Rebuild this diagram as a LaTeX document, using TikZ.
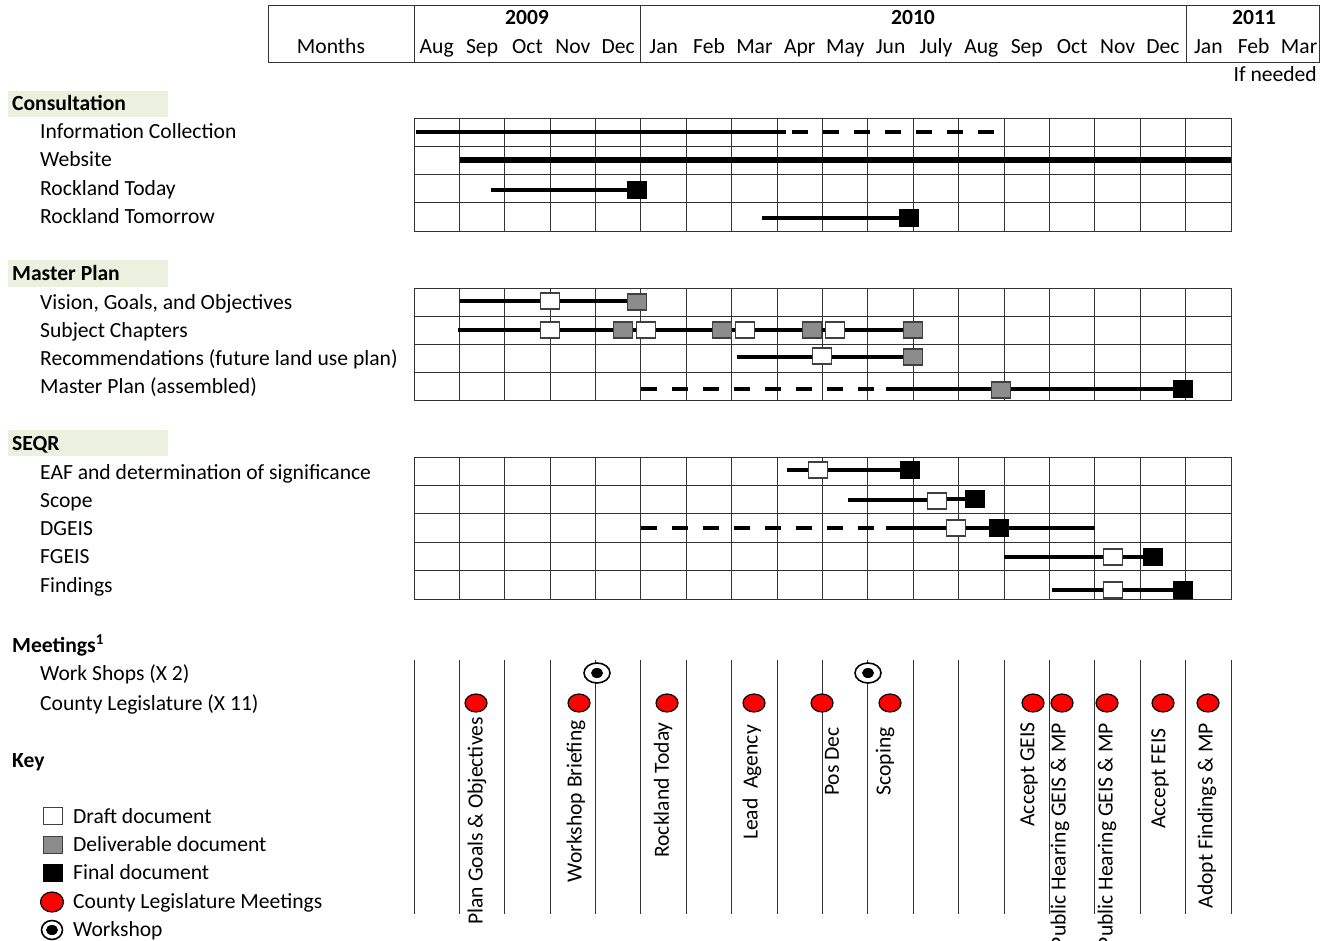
\documentclass[tikz,border=0pt]{standalone}
\usepackage{fontspec}
\setmainfont{Carlito}
\usetikzlibrary{positioning, shapes.geometric, calc}
\definecolor{bandgreen}{HTML}{EBF1DE}
\definecolor{delgray}{HTML}{8C8C8C}
\newcommand\chartfont{\fontsize{21.6}{25}\selectfont}
\tikzset{
	grid/.style={line width=1.5pt, black!80},
	bar/.style={line width=4.5pt, black},
	bar wide/.style={line width=6pt, black},
	bar dashed/.style={line width=4.5pt, black, dash pattern=on 16pt off 15pt},
	doc draft/.style={rectangle, draw=black!75, line width=1.4pt, fill=white,
		minimum width=19pt, minimum height=16pt, inner sep=0pt},
	doc deliver/.style={doc draft, fill=delgray},
	doc final/.style={rectangle, fill=black, minimum width=20pt, minimum height=18pt, inner sep=0pt},
	meeting/.style={ellipse, draw=black, line width=1.2pt, fill=red,
		minimum width=22pt, minimum height=18pt, inner sep=0pt},
	workshop/.style={ellipse, draw=black, line width=1.6pt, fill=white,
		minimum width=26pt, minimum height=20pt, inner sep=0pt,
		path picture={\fill[black] (path picture bounding box.center) ellipse (6pt and 5pt);}},
	band/.style={fill=bandgreen},
	label/.style={anchor=base west, inner sep=0pt},
	heading/.style={label, font=\chartfont\bfseries},
	month/.style={anchor=base, inner sep=0pt},
	vlabel/.style={rotate=90, anchor=east, inner sep=0pt}
}

\begin{document}
\begin{tikzpicture}[x=1pt, y=-1pt, font=\chartfont]
	\useasboundingbox (0,0) rectangle (1322,941);
	\def\mw{45.39}
	% header table
	\draw[grid] (268,5.5) -- (1320,5.5) (268,62.5) -- (1320,62.5);
	\foreach \x in {268.5,414.5,640.5,1186.5,1319.5}
		\draw[grid] (\x,5) -- (\x,63);
	\node[month] (months) at (331,54) {Months};
	\node[month, font=\chartfont\bfseries] (y2009) at (527,25) {2009};
	\node[month, font=\chartfont\bfseries] (y2010) at (913,25) {2010};
	\node[month, font=\chartfont\bfseries] (y2011) at (1254,25) {2011};
	\foreach \m [count=\i from 0] in {Aug,Sep,Oct,Nov,Dec,Jan,Feb,Mar,Apr,May,Jun,July,Aug,Sep,Oct,Nov,Dec,Jan,Feb,Mar}
		\node[month] (m\i) at ({414+\mw*(\i+0.5)},54) {\m};
	\node[anchor=base east, inner sep=0pt] (ifneeded) at (1317,82) {If needed};
	% grids
	\foreach \top/\bot/\n in {118/231/4, 288/400/4, 457/599/5}
	{
		\foreach \i in {0,...,18}
			\draw[grid] ({floor(414+\mw*\i)+0.5},\top) -- ({floor(414+\mw*\i)+0.5},\bot+1);
		\foreach \j in {0,...,\n}
			\draw[grid] (414,{floor(\top+(\bot-\top)*\j/\n)+0.5}) -- ({414+\mw*18+1},{floor(\top+(\bot-\top)*\j/\n)+0.5});
	}
	\foreach \i in {0,...,18}
		\draw[grid] ({floor(414+\mw*\i)+0.5},660) -- ({floor(414+\mw*\i)+0.5},914);
	% section headings
	\fill[band] (8,91) rectangle (168,117);
	\fill[band] (8,260) rectangle (168,287);
	\fill[band] (8,430) rectangle (168,456);
	\node[heading] (hcons) at (12,111) {Consultation};
	\node[label] (linfo) at (40,139) {Information Collection};
	\node[label] (lweb) at (40,167) {Website};
	\node[label] (ltoday) at (40,196) {Rockland Today};
	\node[label] (ltomorrow) at (40,224) {Rockland Tomorrow};
	\node[heading] (hplan) at (12,280) {Master Plan};
	\node[label] (lvision) at (40,309) {Vision, Goals, and Objectives};
	\node[label] (lchapters) at (40,337) {Subject Chapters};
	\node[label] (lrecom) at (40,365) {Recommendations (future land use plan)};
	\node[label] (lassem) at (40,393) {Master Plan (assembled)};
	\node[heading] (hseqr) at (12,450) {SEQR};
	\node[label] (leaf) at (40,479) {EAF and determination of significance};
	\node[label] (lscope) at (40,507) {Scope};
	\node[label] (ldgeis) at (40,535) {DGEIS};
	\node[label] (lfgeis) at (40,563) {FGEIS};
	\node[label] (lfind) at (40,592) {Findings};
	\node[heading] (hmeet) at (12,652) {Meetings\textsuperscript{1}};
	\node[label] (lshops) at (40,680) {Work Shops (X 2)};
	\node[label] (lcounty) at (40,710) {County Legislature (X 11)};
	\node[heading] (hkey) at (12,767) {Key};
	% consultation
	\coordinate (infoA) at (416,132);
	\coordinate (infoB) at (786,132);
	\coordinate (infoC) at (792,132);
	\coordinate (infoD) at (996,132);
	\draw[bar] (infoA) -- (infoB);
	\draw[bar dashed] (infoC) -- (infoD);
	\coordinate (webA) at (460,160);
	\coordinate (webB) at ({414+\mw*18},160);
	\draw[bar wide] (webA) -- (webB);
	\coordinate (todayA) at (491,190);
	\node[doc final] (todayF) at (637,190) {};
	\draw[bar] (todayA) -- (todayF);
	\coordinate (tomA) at (762,218);
	\node[doc final] (tomF) at (909,218) {};
	\draw[bar] (tomA) -- (tomF);
	% master plan
	\coordinate (visA) at (460,301);
	\node[doc draft] (visD) at (550,301) {};
	\node[doc deliver] (visV) at (637,302) {};
	\draw[bar] (visA) -- (visD) -- (visD -| visV.west);
	\coordinate (chA) at (458,330);
	\node[doc draft] (chD1) at (550,330) {};
	\node[doc deliver] (chV1) at (623,330) {};
	\node[doc draft] (chD2) at (646,330) {};
	\node[doc deliver] (chV2) at (722,330) {};
	\node[doc draft] (chD3) at (745,330) {};
	\node[doc deliver] (chV3) at (812,330) {};
	\node[doc draft] (chD4) at (835,330) {};
	\node[doc deliver] (chV4) at (913,330) {};
	\draw[bar] (chA) -- (chD1) -- (chV1) -- (chD2) -- (chV2) -- (chD3) -- (chV3) -- (chD4) -- (chV4);
	\coordinate (recA) at (737,357);
	\node[doc draft] (recD) at (822,356) {};
	\node[doc deliver] (recV) at (913,357) {};
	\draw[bar] (recA) -- (recA -| recD.west) (recD.east |- recV) -- (recV);
	\coordinate (mpA) at (641,389);
	\coordinate (mpB) at (876,389);
	\coordinate (mpC) at (886,389);
	\node[doc deliver] (mpV) at (1001,390) {};
	\node[doc final] (mpF) at (1183,389) {};
	\draw[bar dashed] (mpA) -- (mpB);
	\draw[bar] (mpC) -- (mpC -| mpV.west) (mpV.east |- mpF) -- (mpF);
	% seqr
	\coordinate (eafA) at (787,470);
	\node[doc draft] (eafD) at (818,470) {};
	\node[doc final] (eafF) at (910,470) {};
	\draw[bar] (eafA) -- (eafD) -- (eafF);
	\coordinate (scA) at (848,500);
	\node[doc draft] (scD) at (937,501) {};
	\node[doc final] (scF) at (975,499) {};
	\draw[bar] (scA) -- (scA -| scD.west) (scD.east |- scF) -- (scF);
	\coordinate (dgA) at (641,528);
	\coordinate (dgB) at (876,528);
	\coordinate (dgC) at (886,528);
	\node[doc draft] (dgD) at (956,528) {};
	\node[doc final] (dgF) at (999,528) {};
	\coordinate (dgE) at (1095,528);
	\draw[bar dashed] (dgA) -- (dgB);
	\draw[bar] (dgC) -- (dgD) -- (dgF) -- (dgE);
	\coordinate (fgA) at (1004,557);
	\node[doc draft] (fgD) at (1113,557) {};
	\node[doc final] (fgF) at (1153,557) {};
	\draw[bar] (fgA) -- (fgD) -- (fgF);
	\coordinate (fiA) at (1052,590);
	\node[doc draft] (fiD) at (1113,590) {};
	\node[doc final] (fiF) at (1183,590) {};
	\draw[bar] (fiA) -- (fiD) -- (fiF);
	% meetings
	\node[workshop] (ws1) at (597,673) {};
	\node[workshop] (ws2) at (868,673) {};
	\foreach \x/\tx/\ty/\txt [count=\k] in {
		476/477/717/Plan Goals \& Objectives,
		579/576/720/Workshop Briefing,
		667/663/722/Rockland Today,
		754/752/725/Lead~ Agency,
		822/832/727/Pos Dec,
		890/885/727/Scoping,
		1033/1029/722/Accept GEIS,
		1062/1060/723/Public Hearing GEIS \& MP,
		1107/1107/723/Public Hearing GEIS \& MP,
		1163/1160/728/Accept FEIS,
		1208/1207/723/Adopt Findings \& MP}
	{
		\node[meeting] (cl\k) at (\x,703) {};
		\node[vlabel] (cl\k txt) at (\tx,\ty) {\txt};
	}
	% key
	\node[doc draft, minimum width=19pt, minimum height=17pt] (kdraft) at (53,816) {};
	\node[label] (tdraft) at (73,823) {Draft document};
	\node[doc deliver, minimum width=19pt, minimum height=17pt] (kdeliver) at (53,845) {};
	\node[label] (tdeliver) at (73,851) {Deliverable document};
	\node[doc final] (kfinal) at (53,873) {};
	\node[label] (tfinal) at (73,879) {Final document};
	\node[meeting, minimum width=23pt, minimum height=20pt] (kmeet) at (52,902) {};
	\node[label] (tmeet) at (73,908) {County Legislature Meetings};
	\node[workshop, minimum width=21pt, minimum height=19pt] (kshop) at (52,930) {};
	\node[label] (tshop) at (73,936) {Workshop};
\end{tikzpicture}
\end{document}
